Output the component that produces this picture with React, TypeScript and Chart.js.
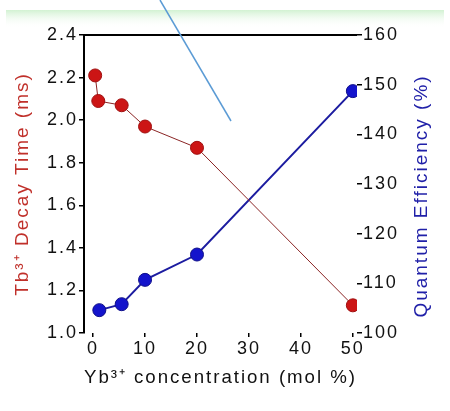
import React, { useEffect, useRef } from "react";
import { Chart, registerables } from "chart.js";

Chart.register(...registerables);

// Data
const decayX = [0.4, 1, 5.5, 10, 20, 50];
const decayTime = [2.21, 2.09, 2.07, 1.97, 1.87, 1.13];
const qeX = [1.2, 5.5, 10, 20, 50];
const quantumEfficiency = [104.6, 105.8, 110.7, 115.8, 148.7];
const xTicks = [0, 10, 20, 30, 40, 50];
const leftTicks = [1.0, 1.2, 1.4, 1.6, 1.8, 2.0, 2.2, 2.4];
const rightTicks = [100, 110, 120, 130, 140, 150, 160];
const rightTitle = "Quantum Efficiency (%)";

const FONT = "'Liberation Sans', Arial, sans-serif";
const SPACING = "2px";

export default function App() {
  const ref = useRef<HTMLCanvasElement | null>(null);

  useEffect(() => {
    if (!ref.current) return;
    const framePlugin = {
      id: "frame",
      beforeLayout(chart: any) {
        chart.ctx.letterSpacing = SPACING;
      },
      beforeDraw(chart: any) {
        const { ctx, width, height } = chart;
        ctx.letterSpacing = SPACING;
        ctx.save();
        ctx.fillStyle = "#ffffff";
        ctx.fillRect(0, 0, width, height);
        const g = ctx.createLinearGradient(0, 10, 0, 28);
        g.addColorStop(0, "rgba(205,240,205,0.9)");
        g.addColorStop(1, "rgba(255,255,255,0)");
        ctx.fillStyle = g;
        ctx.fillRect(6, 10, width - 12, 18);
        ctx.restore();
      },
      afterDraw(chart: any) {
        const { ctx, chartArea } = chart;
        ctx.save();
        ctx.strokeStyle = "#000000";
        ctx.lineWidth = 2;
        ctx.beginPath();
        ctx.moveTo(chartArea.left, chartArea.top);
        ctx.lineTo(chartArea.right, chartArea.top);
        ctx.stroke();
        // right axis title, reading bottom to top
        const y1 = chart.scales.y1;
        ctx.translate(y1.right - 28, (chartArea.top + chartArea.bottom) / 2 + 12);
        ctx.rotate(-Math.PI / 2);
        ctx.font = `19px ${FONT}`;
        ctx.fillStyle = "#2020a8";
        ctx.textAlign = "center";
        ctx.textBaseline = "middle";
        ctx.fillText(rightTitle, 0, 0);
        ctx.restore();
        // stray annotation stroke
        ctx.save();
        ctx.strokeStyle = "#5b9bd5";
        ctx.lineWidth = 1.5;
        ctx.beginPath();
        ctx.moveTo(160, 0);
        ctx.lineTo(231, 121);
        ctx.stroke();
        ctx.restore();
      },
    };

    const chart = new Chart(ref.current, {
      type: "line",
      data: {
        datasets: [
          {
            label: "Decay time",
            data: decayX.map((x, i) => ({ x, y: decayTime[i] })),
            yAxisID: "y",
            borderColor: "#8b2525",
            borderWidth: 1,
            backgroundColor: "#cc1515",
            pointBackgroundColor: "#cc1515",
            pointBorderColor: "#a01010",
            pointRadius: 6.5,
            pointBorderWidth: 1,
          },
          {
            label: "Quantum efficiency",
            data: qeX.map((x, i) => ({ x, y: quantumEfficiency[i] })),
            yAxisID: "y1",
            borderColor: "#1c1ca0",
            borderWidth: 2,
            backgroundColor: "#1414cc",
            pointBackgroundColor: "#1414cc",
            pointBorderColor: "#10108a",
            pointRadius: 6.5,
            pointBorderWidth: 1,
          },
        ],
      },
      options: {
        animation: false,
        responsive: true,
        maintainAspectRatio: false,
        layout: { padding: { top: 35, left: 0, right: 0, bottom: 0 } },
        plugins: { legend: { display: false }, tooltip: { enabled: false } },
        scales: {
          x: {
            type: "linear",
            min: -1.75,
            max: 50.8,
            afterBuildTicks: (s: any) => {
              s.ticks = xTicks.map((v) => ({ value: v }));
            },
            afterFit: (s: any) => {
              s.height = 78;
            },
            grid: { drawOnChartArea: false, drawTicks: true, tickLength: 4, color: "#000", lineWidth: 1.5 },
            border: { display: false },
            ticks: { color: "#111", font: { family: FONT, size: 18 }, padding: 1 },
            title: {
              display: true,
              text: "Yb³⁺ concentration (mol %)",
              color: "#111",
              font: { family: FONT, size: 19 },
              padding: { top: 0, bottom: 22 },
            },
          },
          y: {
            type: "linear",
            position: "left",
            min: 1.0,
            max: 2.4,
            afterBuildTicks: (s: any) => {
              s.ticks = leftTicks.map((v) => ({ value: v }));
            },
            afterFit: (s: any) => {
              s.width = 84;
            },
            grid: { drawOnChartArea: false, drawTicks: true, tickLength: 5, color: "#000", lineWidth: 1.5 },
            border: { display: true, color: "#000", width: 2 },
            ticks: {
              color: "#111",
              font: { family: FONT, size: 18 },
              padding: 1,
              callback: (v: any) => Number(v).toFixed(1),
            },
            title: {
              display: true,
              text: "Tb³⁺ Decay Time (ms)",
              color: "#c0302a",
              font: { family: FONT, size: 19 },
              padding: { top: 11, bottom: 0 },
            },
          },
          y1: {
            type: "linear",
            position: "right",
            min: 100,
            max: 160,
            afterBuildTicks: (s: any) => {
              s.ticks = rightTicks.map((v) => ({ value: v }));
            },
            afterFit: (s: any) => {
              s.width = 93;
            },
            grid: { drawOnChartArea: false, drawTicks: true, tickLength: 5, color: "#000", lineWidth: 1.5 },
            border: { display: false },
            ticks: { color: "#111", font: { family: FONT, size: 18 }, padding: 1 },
            title: { display: false },
          },
        },
      },
      plugins: [framePlugin],
    });
    return () => chart.destroy();
  }, []);

  return (
    <div style={{ position: "fixed", left: 0, top: 0, width: 450, height: 411, background: "#fff" }}>
      <canvas ref={ref} />
    </div>
  );
}
